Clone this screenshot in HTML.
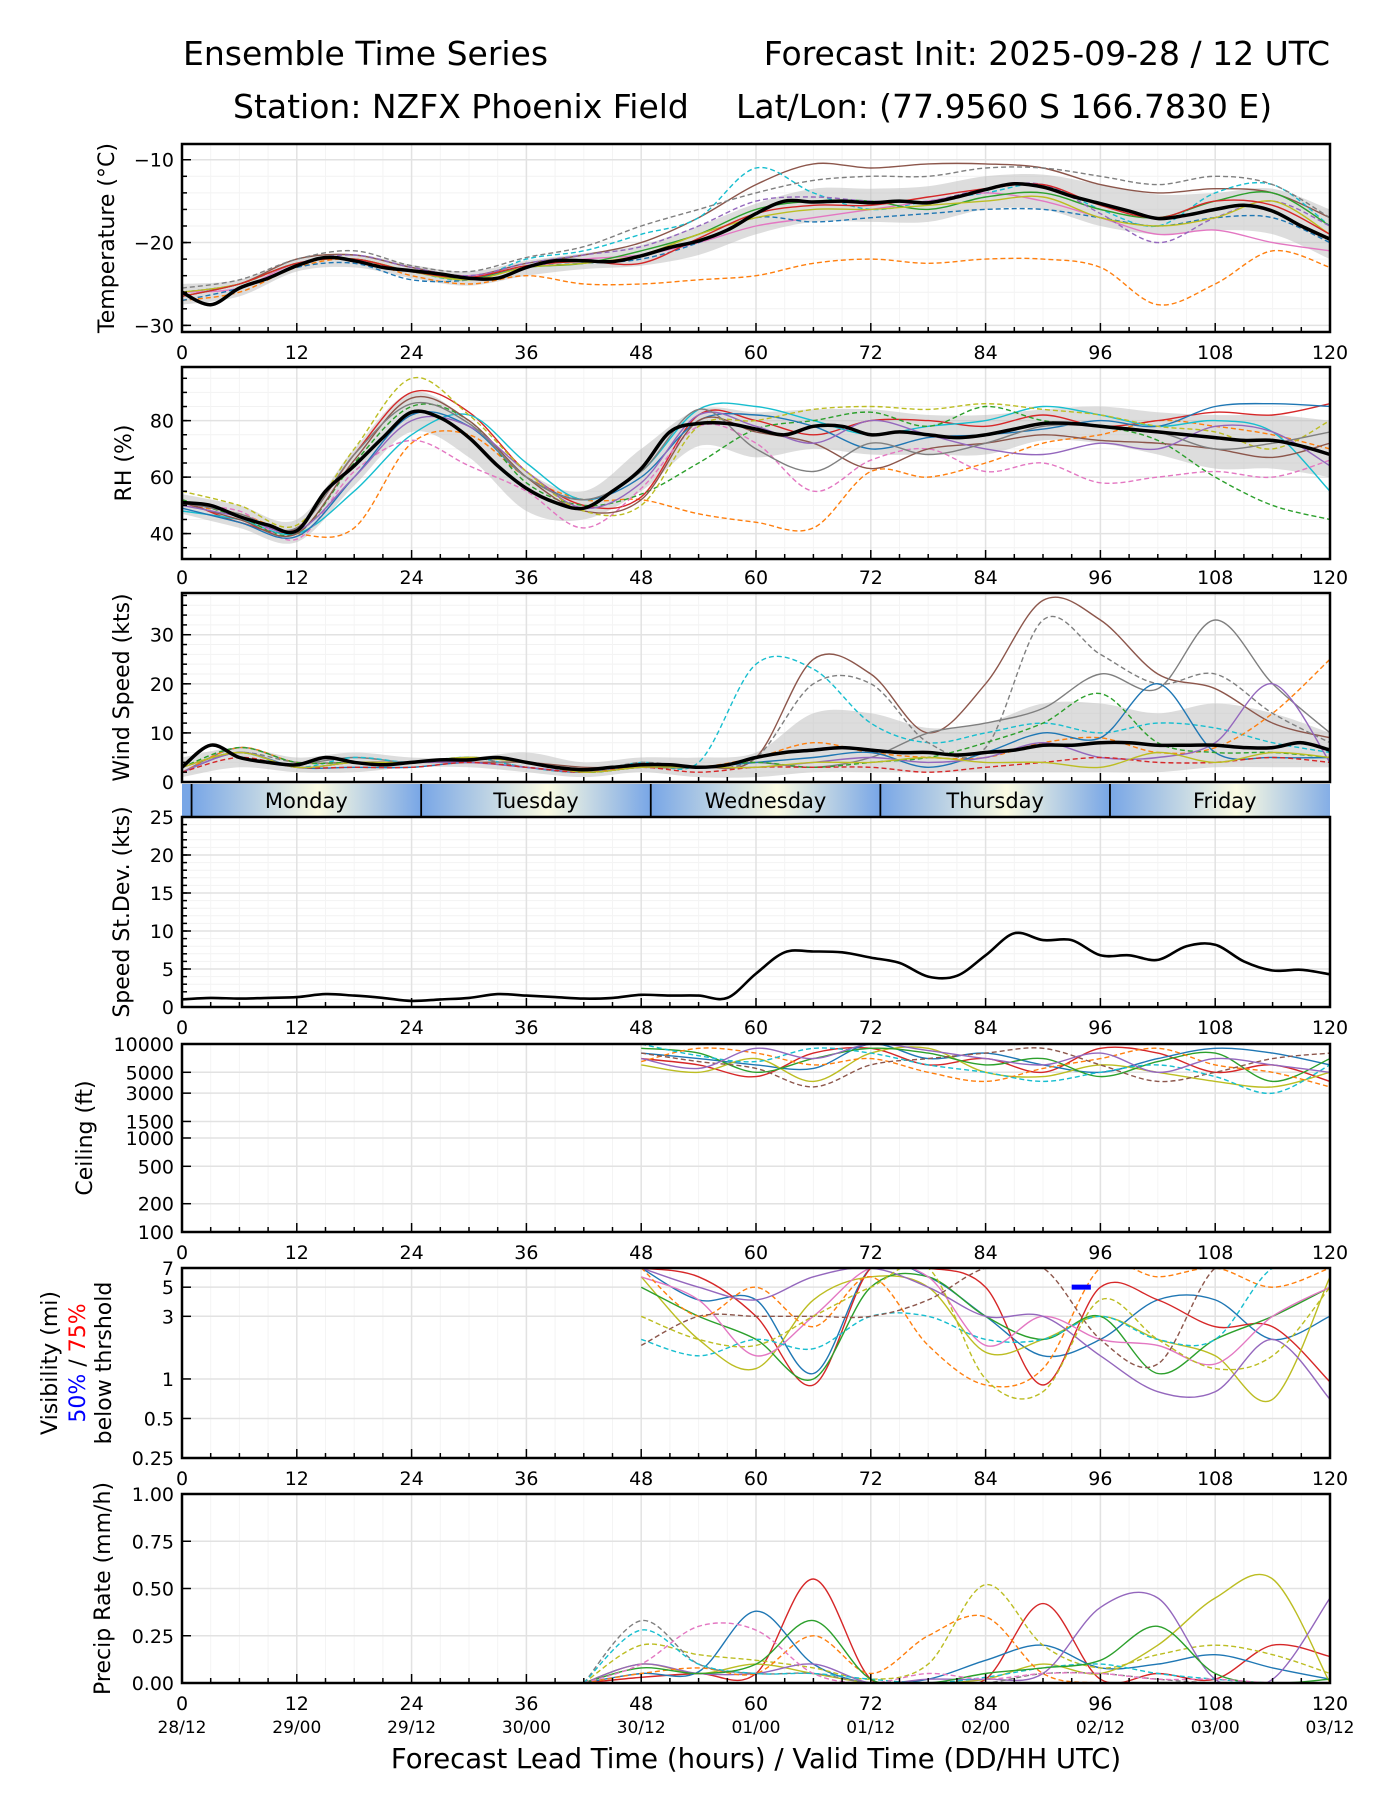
<!DOCTYPE html>
<html><head><meta charset="utf-8"><style>
html,body{margin:0;padding:0;background:#fff;}
svg{display:block;font-family:"DejaVu Sans","Liberation Sans",sans-serif;}
</style></head><body>
<svg id="chart" width="1400" height="1800" viewBox="0 0 1400 1800" xmlns="http://www.w3.org/2000/svg">
<rect width="1400" height="1800" fill="#fff"/>
<text x="183" y="65" font-size="33">Ensemble Time Series</text>
<text x="1330" y="65" font-size="33" text-anchor="end">Forecast Init: 2025-09-28 / 12 UTC</text>
<text x="233" y="118" font-size="33">Station: NZFX Phoenix Field</text>
<text x="736" y="118" font-size="33">Lat/Lon: (77.9560 S 166.7830 E)</text>
<g id="plots"></g>
<text x="756" y="1768" font-size="27.5" text-anchor="middle">Forecast Lead Time (hours) / Valid Time (DD/HH UTC)</text>
</svg>
<script>
// ---------- data ----------
const hours3 = [0,3,6,9,12,15,18,21,24,27,30,33,36,39,42,45,48,51,54,57,60,63,66,69,72,75,78,81,84,87,90,93,96,99,102,105,108,111,114,117,120];
const hours6 = [0,6,12,18,24,30,36,42,48,54,60,66,72,78,84,90,96,102,108,114,120];
const hoursLate = [48,54,60,66,72,78,84,90,96,102,108,114,120];
const hoursPrecip = [42,48,54,60,66,72,78,84,90,96,102,108,114,120];
const xTicks = [0,12,24,36,48,60,72,84,96,108,120];
const dateLabels = ["28/12","29/00","29/12","30/00","30/12","01/00","01/12","02/00","02/12","03/00","03/12"];
const dayNames = ["Monday","Tuesday","Wednesday","Thursday","Friday"];
const dayStarts = [1,25,49,73,97];

const tempMean = [-26,-27.5,-25.5,-24.3,-22.8,-21.8,-22.2,-23,-23.4,-23.8,-24.3,-24.3,-23,-22.2,-22.2,-22.3,-21.6,-20.6,-19.8,-18.5,-16.5,-15,-15.1,-15,-15.2,-15,-15.2,-14.5,-13.6,-12.9,-13.3,-14.4,-15.3,-16.2,-17.1,-16.7,-16,-15.5,-16.2,-18,-19.6];
const tempHi = [-25,-24.5,-22,-21.4,-22.7,-23.5,-22.2,-21.3,-20.3,-18,-15.3,-13.5,-13.5,-13.2,-12,-11.8,-13,-14.2,-14,-13.5,-16];
const tempLo = [-27.5,-26.5,-23.5,-23,-24.3,-25.2,-24,-23.2,-22.8,-21.5,-19,-17.5,-17.5,-17.5,-16,-16,-18,-19,-18.5,-19,-22];
const tempM1 = [-26,-25,-22,-21.5,-23,-24,-22.5,-21.5,-20,-17,-13,-10.5,-11,-10.5,-10.5,-11,-13,-14,-13.5,-14,-17];
const tempM2 = [-27,-26,-23,-22,-24,-25,-24,-25,-25,-24.5,-24,-22.5,-22,-22.5,-22,-22,-23,-27.5,-25,-21,-23];
const tempM3 = [-26,-25,-22.5,-22,-23.5,-24.5,-22,-21,-19,-17,-11,-14,-16,-15,-14,-13,-16,-18,-14,-13,-18];
const tempM4 = [-26,-25.5,-22.5,-22,-23.5,-24,-23,-22,-21.5,-20,-18,-17,-16,-15,-14,-15,-17,-19,-18.5,-20,-21];
const tempM5 = [-26.5,-25,-22.5,-22,-23.5,-24.3,-23,-22.5,-21,-19,-16,-15,-15,-16,-14.5,-14,-16,-17,-15,-14,-18];
const tempM6 = [-27,-25.5,-23,-22.5,-24.5,-24.5,-23,-22.5,-22,-20,-17,-17.5,-17,-16.5,-16,-16,-17,-18,-17,-17,-20];
const tempM7 = [-26,-25,-22.5,-21.5,-23,-24,-22.5,-21.5,-20.5,-18,-15,-14.5,-15,-15,-13.5,-13,-16.5,-20,-17,-15,-18];
const tempM8 = [-25.5,-24.5,-22,-21,-22.8,-23.5,-21.8,-20.5,-18,-16,-14,-12.5,-12,-12,-11,-11,-12,-13,-12,-13,-17];
const tempM9 = [-26,-25,-22.5,-22,-23.5,-24.5,-23,-22.5,-21.5,-19,-17,-16,-16,-15.5,-15,-14.5,-17,-18,-17,-15,-19];
const tempM10 = [-26.5,-25,-22.5,-22,-23.5,-24.2,-22.8,-22.3,-22.5,-19.5,-16.5,-15.5,-15.5,-14.5,-13.5,-13,-15.5,-17,-15,-15.5,-19];

const rhMean = [51,50,46,43,41,55,64,74,83,81,74,64,56,51,49,55,63,76,79,79,77,75,78,78,75,76,75,74,75,77,79,79,78,77,76,75,74,73,73,71,68];
const rhHi = [54,50,45,70,90,80,62,55,70,84,83,84,84,82,82,84,85,83,82,82,80];
const rhLo = [47,42,37,57,76,67,48,45,55,71,67,70,68,68,68,73,72,68,63,63,60];
const rhM1 = [50,47,40,42,72,75,60,52,52,47,44,42,62,60,65,72,75,80,78,75,70];
const rhM2 = [52,44,42,68,90,83,62,50,53,82,80,75,80,80,78,82,78,80,83,82,86];
const rhM3 = [48,45,40,55,75,82,65,52,62,84,85,80,75,78,80,85,82,78,80,76,55];
const rhM4 = [52,46,40,65,85,80,58,50,54,65,77,80,83,78,85,80,78,73,60,50,45];
const rhM5 = [50,48,38,62,73,64,55,42,56,78,72,55,66,70,62,65,58,60,62,60,66];
const rhM6 = [49,44,39,60,82,78,60,52,60,80,82,78,70,74,75,77,80,78,85,86,85];
const rhM7 = [51,45,40,66,88,80,60,48,52,80,76,72,63,70,72,75,73,72,70,67,72];
const rhM8 = [50,46,41,60,80,78,62,49,58,82,78,72,80,75,70,68,72,70,78,76,64];
const rhM9 = [55,50,43,70,95,82,62,48,50,78,80,84,85,84,86,84,82,78,76,70,80];
const rhM10 = [51,47,42,68,86,79,60,52,62,84,70,62,72,68,72,78,78,76,70,72,76];

const windMean = [3,7.5,5,4,3.5,5,4,3.5,4,4.5,4.5,5,4,3,2.5,3,3.5,3.5,3,3.5,5,6,6.5,7,6.5,6,6,5.5,6,6.5,7.5,7.5,8,8,7.5,7.5,7.5,7,7,8,6.5];
const windHi = [5,7,5,6,5,5,6,4,5,5,6,14,14,11,12,16,16,14,16,14,10];
const windLo = [1,3,2,2,3,3,2,1,2,1,1,2,2,2,2,2,2,2,3,3,3];
const windM1 = [3,6,3,4,4,4,4,3,3,3,5,25,22,10,20,37,33,22,19,12,9];
const windM2 = [2,7,4,5,4,5,4,2,3,3,4,3,5,10,12,15,22,19,33,20,10];
const windM3 = [3,6,3,5,4,5,3,2,4,4,24,23,12,8,10,12,10,12,11,8,6];
const windM4 = [2,7,4,4,4,5,4,2,3,3,5,8,6,5,5,8,9,6,7,14,25];
const windM5 = [3,6,4,4,4,5,3,2,4,3,5,20,20,8,7,33,26,20,22,14,8];
const windM6 = [2,6,3,3,3,4,3,2,3,3,4,5,6,3,6,10,9,20,6,5,5];
const windM7 = [3,7,4,4,4,5,4,2,3,3,4,3,4,5,8,12,18,8,6,6,5];
const windM8 = [2,6,3,4,4,4,3,2,3,3,3,4,5,4,5,8,5,5,8,20,4];
const windM9 = [2,5,3,3,3,4,3,2,3,2,3,3,3,2,3,4,5,4,4,5,4];
const windM10 = [3,6,3,4,4,5,4,2,3,3,3,4,4,5,4,4,3,6,4,6,5];

const stdevValues = [1,1.2,1.1,1.2,1.3,1.7,1.5,1.2,0.8,1,1.2,1.7,1.5,1.3,1.1,1.2,1.6,1.5,1.5,1.2,4.4,7.2,7.3,7.2,6.5,5.8,4,4.1,6.8,9.7,8.8,8.8,6.8,6.8,6.2,8,8.2,6,4.8,4.9,4.3];

const ceilM1 = [7000,6000,4500,8000,9000,6000,7000,5000,9000,8000,5000,6000,4000];
const ceilM2 = [8000,7000,6000,5500,10000,7000,8000,6000,5000,7000,9000,8000,6000];
const ceilM3 = [6000,5000,7000,4000,8000,9000,5000,4500,6000,5000,4000,3500,5000];
const ceilM4 = [9000,8000,5000,7000,9000,8000,6000,7000,4500,6500,8000,4000,7000];
const ceilM5 = [6500,9000,8000,6000,7000,5000,4000,5500,7000,9000,6000,5000,3500];
const ceilM6 = [8000,6500,5500,3500,6000,7000,8000,9000,6000,4000,5000,7000,8000];
const ceilM7 = [10000,7500,6500,9000,8000,6000,5000,4000,5000,6000,4500,3000,6000];
const ceilM8 = [7000,5500,9000,7000,10000,8500,7000,6000,8000,5000,7000,6000,5000];

const visM1 = [7,4,4,1.1,7,6,3,1.5,2,4,4,2,3];
const visM2 = [7,6,3,0.9,7,7,5,0.9,5,4,2.5,2.5,0.95];
const visM3 = [6,2,1.2,4,6,5,1.6,2,3,2,1.5,0.7,6];
const visM4 = [5,3,2,1,5,6,3,2,3,1.1,2,3,5];
const visM5 = [6,4,1.5,3,7,6,1.8,3,2,1.8,1.3,3,5];
const visM6 = [7,3,5,2.5,6,1.8,0.9,1.2,7,6,7,5,7];
const visM7 = [2,1.5,2,1.7,3,3,2,2,3,2,2,7,7];
const visM8 = [7,5,4,6,7,5,3,3,1.5,0.8,0.8,2,0.7];
const visM9 = [1.8,3,3,3,3,4,7,7,2,1.3,7,7,7];
const visM10 = [3,2,1.8,3,5,7,1,0.8,4,2,1.2,1.5,5];
const visThreshHours = [93,95];
const visThreshValue = [5,5];

const precipM1 = [0,0.03,0.05,0.05,0.55,0.02,0,0.02,0.42,0.02,0.05,0.02,0.2,0.14];
const precipM2 = [0,0.05,0.06,0.38,0.1,0,0.02,0.12,0.2,0.08,0.1,0.15,0.08,0.02];
const precipM3 = [0,0.2,0.15,0.12,0.08,0.02,0.1,0.52,0.2,0.08,0.15,0.2,0.15,0.05];
const precipM4 = [0,0.1,0.05,0.1,0.05,0,0,0.02,0.1,0.05,0.2,0.45,0.55,0];
const precipM5 = [0,0.1,0.05,0.05,0.1,0,0.02,0.02,0.05,0.4,0.45,0.02,0.02,0.45];
const precipM6 = [0,0.05,0.08,0.05,0.25,0.05,0.25,0.35,0.05,0,0,0,0,0];
const precipM7 = [0,0.33,0.1,0.05,0.05,0,0,0,0.05,0.05,0.02,0,0,0];
const precipM8 = [0,0.28,0.1,0.05,0.05,0.02,0,0.03,0.08,0.1,0.05,0.02,0,0];
const precipM9 = [0,0.08,0.05,0.1,0.33,0.02,0,0.05,0.08,0.12,0.3,0.05,0,0.02];
const precipM10 = [0,0.1,0.3,0.28,0.05,0,0.05,0.02,0.05,0.05,0.02,0.02,0,0];

// ---------- styles ----------
const C = {blue:"#1f77b4",orange:"#ff7f0e",green:"#2ca02c",red:"#d62728",purple:"#9467bd",brown:"#8c564b",pink:"#e377c2",gray:"#7f7f7f",olive:"#bcbd22",cyan:"#17becf"};
const X0 = 182, X1 = 1330;
const TF = 19, YF = 22;
function xs(h){ return X0 + h*(X1-X0)/120; }
const NS = "http://www.w3.org/2000/svg";
const root = document.getElementById('plots');
function el(tag, attrs, parent){ const e=document.createElementNS(NS,tag); for(const k in attrs) e.setAttribute(k,attrs[k]); (parent||root).appendChild(e); return e; }
function smoothPath(pts){
  if(pts.length<2) return "";
  let d="M"+pts[0][0].toFixed(1)+","+pts[0][1].toFixed(1);
  for(let i=0;i<pts.length-1;i++){
    const p0=pts[Math.max(0,i-1)],p1=pts[i],p2=pts[i+1],p3=pts[Math.min(pts.length-1,i+2)];
    const c1x=p1[0]+(p2[0]-p0[0])/6,c1y=p1[1]+(p2[1]-p0[1])/6;
    const c2x=p2[0]-(p3[0]-p1[0])/6,c2y=p2[1]-(p3[1]-p1[1])/6;
    d+=" C"+c1x.toFixed(1)+","+c1y.toFixed(1)+" "+c2x.toFixed(1)+","+c2y.toFixed(1)+" "+p2[0].toFixed(1)+","+p2[1].toFixed(1);
  }
  return d;
}
let clipId=0;
function makePanel(p){
  const g = el('g',{});
  
  
  const id='clip'+(clipId++);
  const cp=el('clipPath',{id:id},g); el('rect',{x:X0,y:p.top,width:X1-X0,height:p.bot-p.top},cp);
  const grid=el('g',{},g);
  (p.minorY||[]).forEach(v=>{const y=p.y(v); el('line',{x1:X0,x2:X1,y1:y,y2:y,stroke:"#f2f2f2","stroke-width":1},grid);});
  for(let h=3;h<120;h+=3){ if(h%12) el('line',{x1:xs(h),x2:xs(h),y1:p.top,y2:p.bot,stroke:"#f4f4f4","stroke-width":1},grid); }
  p.yTicks.forEach(v=>{const y=p.y(v); el('line',{x1:X0,x2:X1,y1:y,y2:y,stroke:"#e2e2e2","stroke-width":1.5},grid);});
  xTicks.forEach(h=>{ el('line',{x1:xs(h),x2:xs(h),y1:p.top,y2:p.bot,stroke:"#e2e2e2","stroke-width":1.5},grid);});
  const data=el('g',{'clip-path':'url(#'+id+')'},g);
  p.draw(data,p);
  const tk=el('g',{stroke:"#000"},g);
  for(let h=0;h<=120;h+=3){ const L=(h%12)?5:9; el('line',{x1:xs(h),x2:xs(h),y1:p.bot,y2:p.bot-L,"stroke-width":1.5},tk); }
  (p.minorY||[]).forEach(v=>{const y=p.y(v); el('line',{x1:X0,x2:X0+5,y1:y,y2:y,"stroke-width":1.5},tk);});
  p.yTicks.forEach((v,i)=>{const y=p.y(v); el('line',{x1:X0,x2:X0+9,y1:y,y2:y,"stroke-width":1.5},tk);
    const t=el('text',{x:X0-8,y:y+7,"font-size":TF,"text-anchor":"end"},g); t.textContent=p.yLabels[i];
    
    
  });
  el('rect',{x:X0,y:p.top,width:X1-X0,height:p.bot-p.top,fill:"none",stroke:"#000","stroke-width":2.5},g);
  if(p.xLabelY){ xTicks.forEach(h=>{const t=el('text',{x:xs(h),y:p.xLabelY,"font-size":TF,"text-anchor":"middle"},g); t.textContent=String(h);
    
    });}
  p.yTitle.forEach(tt=>{
    const t=el('text',{x:0,y:0,"font-size":YF,"text-anchor":"middle",fill:tt.fill||"#000",transform:"translate("+tt.x+","+((p.top+p.bot)/2)+") rotate(-90)"},g);
    
    
    if(tt.spans){ tt.spans.forEach(s=>{const sp=el('tspan',{fill:s[1]},t); sp.textContent=s[0];}); } else t.textContent=tt.text;
  });
  return g;
}
function drawMember(g,p,hrs,vals,color,dashed,name){
  const pts=[]; hrs.forEach((h,i)=>{ if(vals[i]!==null) pts.push([xs(h),p.y(vals[i])]); });
  const path=el('path',{d:smoothPath(pts),fill:"none",stroke:color,"stroke-width":1.4,"stroke-dasharray":dashed?"5,3":"none"},g);
  
  
}
function drawBand(g,p,hrs,lo,hi,name){
  const top=hrs.map((h,i)=>[xs(h),p.y(hi[i])]); const bot=hrs.map((h,i)=>[xs(h),p.y(lo[i])]).reverse();
  let d=smoothPath(top); d+=" L"+bot[0][0]+","+bot[0][1]+smoothPath(bot).replace(/^M[^C]*/," ")+" Z";
  const path=el('path',{d:d,fill:"#bbbbbb","fill-opacity":0.5,stroke:"none"},g);
  
  
}
function drawMean(g,p,hrs,vals,name,w){
  const path=el('path',{d:smoothPath(hrs.map((h,i)=>[xs(h),p.y(vals[i])])),fill:"none",stroke:"#000","stroke-width":w||3.5,"stroke-linejoin":"round"},g);
  
  
}
function lin(top,bot,min,max){ return v=>bot-(v-min)/(max-min)*(bot-top); }
function logs(top,bot,min,max){ return v=>bot-(Math.log10(v)-Math.log10(min))/(Math.log10(max)-Math.log10(min))*(bot-top); }
function range(a,b,s){const r=[];for(let v=a;v<=b+1e-9;v+=s)r.push(+v.toFixed(3));return r;}

const mstyle=[[C.brown,0],[C.orange,1],[C.cyan,1],[C.pink,0],[C.green,0],[C.blue,1],[C.purple,1],[C.gray,1],[C.olive,0],[C.red,0]];

makePanel({name:"temperature",top:144,bot:332,y:lin(144,332,-30.8,-8.1),yTicks:[-30,-20,-10],yLabels:["\u221230","\u221220","\u221210"],minorY:range(-30,-10,2),xLabelY:359,
 yTitle:[{x:114,text:"Temperature (\u00b0C)"}],
 draw:(g,p)=>{drawBand(g,p,hours6,tempLo,tempHi,"temperature-spread");
  [tempM1,tempM2,tempM3,tempM4,tempM5,tempM6,tempM7,tempM8,tempM9,tempM10].forEach((m,i)=>drawMember(g,p,hours6,m,mstyle[i][0],mstyle[i][1],"temperature-member-"+(i+1)));
  drawMean(g,p,hours3,tempMean,"temperature-mean");}});
makePanel({name:"rh",top:367,bot:559,y:lin(367,559,31,99),yTicks:[40,60,80],yLabels:["40","60","80"],minorY:range(35,95,5),xLabelY:584,
 yTitle:[{x:131,text:"RH (%)"}],
 draw:(g,p)=>{drawBand(g,p,hours6,rhLo,rhHi,"rh-spread");
  [rhM1,rhM2,rhM3,rhM4,rhM5,rhM6,rhM7,rhM8,rhM9,rhM10].forEach((m,i)=>drawMember(g,p,hours6,m,[C.orange,C.red,C.cyan,C.green,C.pink,C.blue,C.brown,C.purple,C.olive,C.gray][i],[1,0,0,1,1,0,0,0,1,0][i],"rh-member-"+(i+1)));
  drawMean(g,p,hours3,rhMean,"rh-mean");}});
makePanel({name:"wind",top:593,bot:782,y:lin(593,782,0,38.5),yTicks:[0,10,20,30],yLabels:["0","10","20","30"],minorY:range(2,38,2),xLabelY:null,
 yTitle:[{x:129,text:"Wind Speed (kts)"}],
 draw:(g,p)=>{drawBand(g,p,hours6,windLo,windHi,"wind-spread");
  [windM1,windM2,windM3,windM4,windM5,windM6,windM7,windM8,windM9,windM10].forEach((m,i)=>drawMember(g,p,hours6,m,[C.brown,C.gray,C.cyan,C.orange,C.gray,C.blue,C.green,C.purple,C.red,C.olive][i],[0,0,1,1,1,0,1,0,1,0][i],"wind-member-"+(i+1)));
  drawMean(g,p,hours3,windMean,"wind-mean");}});
(function(){
  const g=el('g',{});  
  const defs=el('defs',{},g);
  const lg=el('linearGradient',{id:"dayGrad",x1:"0",x2:"1",y1:"0",y2:"0"},defs);
  el('stop',{offset:"0",'stop-color':"#78a6e6"},lg); el('stop',{offset:"0.55",'stop-color':"#fbfbe2"},lg); el('stop',{offset:"1",'stop-color':"#78a6e6"},lg);
  const cp=el('clipPath',{id:"dayClip"},defs); el('rect',{x:X0,y:784,width:X1-X0,height:33},cp);
  const inner=el('g',{'clip-path':'url(#dayClip)'},g);
  el('rect',{x:X0,y:784,width:xs(1)-X0,height:33,fill:"#78a6e6"},inner);
  dayStarts.forEach((h,i)=>{
    el('rect',{x:xs(h),y:784,width:xs(h+24)-xs(h),height:33,fill:"url(#dayGrad)"},inner);
    el('line',{x1:xs(h),x2:xs(h),y1:784,y2:817,stroke:"#000","stroke-width":1.8},inner);
    const t=el('text',{x:xs(h+12),y:808,"font-size":21,"text-anchor":"middle"},g); t.textContent=dayNames[i];
    
    
  });
})();
makePanel({name:"speed-stdev",top:817,bot:1007,y:lin(817,1007,0,25),yTicks:[0,5,10,15,20,25],yLabels:["0","5","10","15","20","25"],minorY:range(1,24,1),xLabelY:1034,
 yTitle:[{x:129,text:"Speed St.Dev. (kts)"}],
 draw:(g,p)=>{drawMean(g,p,hours3,stdevValues,"speed-stdev-line",2.6);}});
makePanel({name:"ceiling",top:1044,bot:1232,y:logs(1044,1232,100,10000),yTicks:[100,200,500,1000,1500,3000,5000,10000],yLabels:["100","200","500","1000","1500","3000","5000","10000"],minorY:[],xLabelY:1259,
 yTitle:[{x:92,text:"Ceiling (ft)"}],
 draw:(g,p)=>{[ceilM1,ceilM2,ceilM3,ceilM4,ceilM5,ceilM6,ceilM7,ceilM8].forEach((m,i)=>drawMember(g,p,hoursLate,m,[C.red,C.blue,C.olive,C.green,C.orange,C.brown,C.cyan,C.purple][i],[0,0,0,0,1,1,1,0][i],"ceiling-member-"+(i+1)));}});
makePanel({name:"visibility",top:1268,bot:1458,y:logs(1268,1458,0.25,7),yTicks:[0.25,0.5,1,3,5,7],yLabels:["0.25","0.5","1","3","5","7"],minorY:[],xLabelY:1485,
 yTitle:[{x:57,text:"Visibility (mi)"},{x:85,spans:[["50%","#0000ff"],[" / ","#000"],["75%","#ff0000"]]},{x:111,text:"below thrshold"}],
 draw:(g,p)=>{[visM1,visM2,visM3,visM4,visM5,visM6,visM7,visM8,visM9,visM10].forEach((m,i)=>drawMember(g,p,hoursLate,m,[C.blue,C.red,C.olive,C.green,C.pink,C.orange,C.cyan,C.purple,C.brown,C.olive][i],[0,0,0,0,0,1,1,0,1,1][i],"visibility-member-"+(i+1)));
  const th=el('line',{x1:xs(visThreshHours[0]),x2:xs(visThreshHours[1]),y1:p.y(visThreshValue[0]),y2:p.y(visThreshValue[1]),stroke:"#0000ff","stroke-width":5},g);
  
  }});
makePanel({name:"precip",top:1494,bot:1683,y:lin(1494,1683,0,1),yTicks:[0,0.25,0.5,0.75,1],yLabels:["0.00","0.25","0.50","0.75","1.00"],minorY:[],xLabelY:1710,
 yTitle:[{x:110,text:"Precip Rate (mm/h)"}],
 draw:(g,p)=>{[precipM1,precipM2,precipM3,precipM4,precipM5,precipM6,precipM7,precipM8,precipM9,precipM10].forEach((m,i)=>drawMember(g,p,hoursPrecip,m,[C.red,C.blue,C.olive,C.olive,C.purple,C.orange,C.gray,C.cyan,C.green,C.pink][i],[0,0,1,0,0,1,1,1,0,1][i],"precip-member-"+(i+1)));}});
xTicks.forEach((h,i)=>{const t=el('text',{x:xs(h),y:1733,"font-size":17,"text-anchor":"middle"}); t.textContent=dateLabels[i];
  
  });
</script>
</body></html>
